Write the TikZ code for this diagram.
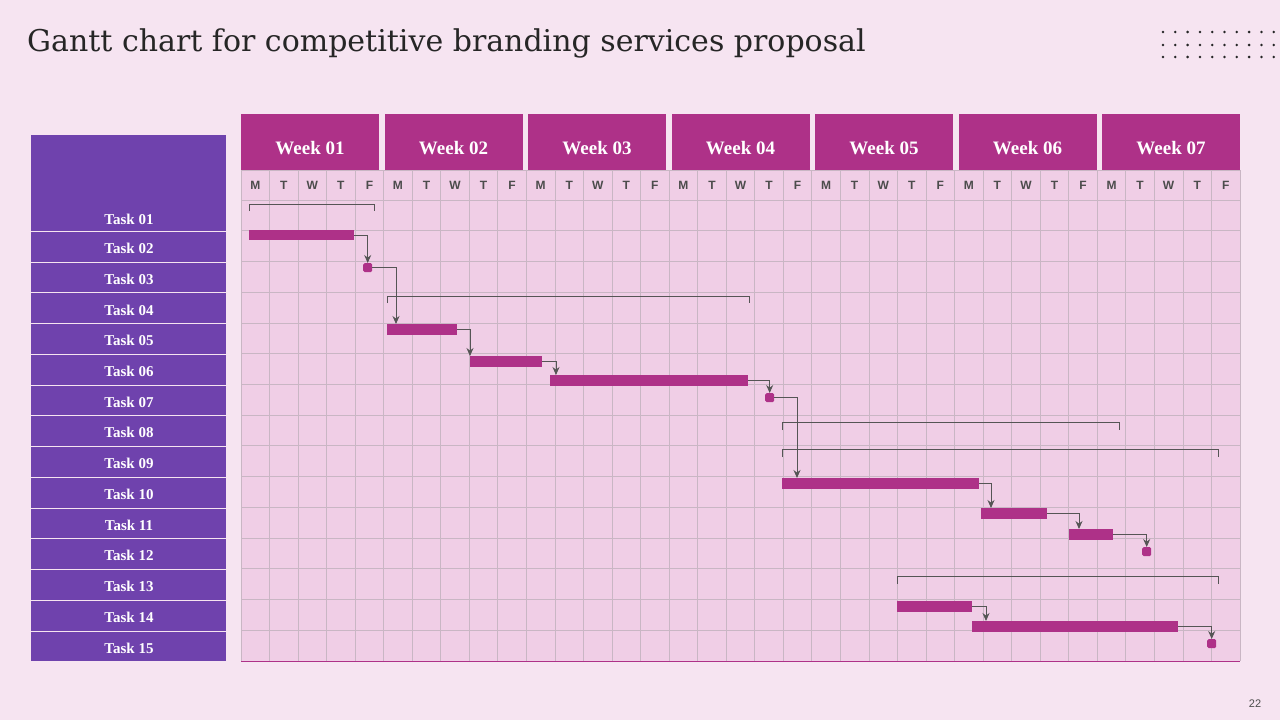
\documentclass[tikz,border=0pt]{standalone}
\usepackage{fontspec}
\setmainfont{Liberation Serif}
\newfontfamily\sansf{Liberation Sans}
\newfontfamily\titlef{DejaVu Serif}
\usetikzlibrary{arrows.meta}
\definecolor{bgc}{HTML}{F6E4F1}
\definecolor{cellc}{HTML}{F0CEE6}
\definecolor{gridc}{HTML}{C9B6C4}
\definecolor{magc}{HTML}{AE3188}
\definecolor{purc}{HTML}{6F42AD}
\definecolor{linec}{HTML}{555555}
\tikzset{
 bar/.style={fill=magc,draw=none},
 conn/.style={draw=linec,line width=0.9pt,-{Stealth[length=8pt,width=7pt]}},
 brk/.style={draw=linec,line width=0.9pt},
 daylbl/.style={font=\sansf\bfseries\fontsize{12}{12}\selectfont,text=black!70},
 weeklbl/.style={font=\bfseries\fontsize{19}{19}\selectfont,text=white},
 tasklbl/.style={font=\bfseries\fontsize{15}{15}\selectfont,text=white},
}
\begin{document}
\begin{tikzpicture}[x=1pt,y=-1pt]
\fill[bgc] (0,0) rectangle (1280,720);
\useasboundingbox (0,0) rectangle (1280,720);
\node[anchor=west,font=\titlef\fontsize{30}{30}\selectfont,text=black!85,inner sep=0] (title) at (27,43) {Gantt chart for competitive branding services proposal};
\foreach \r/\yy in {0/32,1/45,2/57}{\foreach \i in {0,...,9}{\fill[black!85] (1163+\i*12.3,\yy) circle (1.4);}}
\node[font=\sansf\fontsize{11}{11}\selectfont,text=black!70] (pg) at (1255,704) {22};
% grid
\fill[cellc] (241,170) rectangle (1240,661);
\foreach \c in {0,...,35}{\draw[gridc,line width=0.8pt] (241+\c*28.543,170) -- (241+\c*28.543,661);}
\foreach \r in {0,...,15}{\draw[gridc,line width=0.8pt] (241,200+\r*30.733) -- (1240,200+\r*30.733);}
\draw[gridc,line width=0.8pt] (241,170) -- (1240,170);
\draw[magc,line width=1pt] (241,661) -- (1240,661);
\foreach \w [count=\k from 0] in {01,02,03,04,05,06,07}{
 \fill[magc] (241+\k*143.5,114) rectangle (241+\k*143.5+138,170);
 \node[weeklbl] (wk\k) at (241+\k*143.5+69,148) {Week \w};
 \foreach \d [count=\j from 0] in {M,T,W,T,F}{
  \node[daylbl] (d\k\j) at (241+\k*142.71+\j*28.543+14.27,185) {\d};}
}
% tasks
\fill[purc] (31,135) rectangle (226,231);
\node[tasklbl] (t1) at (129,219) {Task 01};
\foreach \n in {2,...,9}{\fill[purc] (31,231+\n*30.733-61.466+1) rectangle (226,231+\n*30.733-30.733);
 \node[tasklbl] (t\n) at (129,231+\n*30.733-44) {Task 0\n};}
\foreach \n in {10,...,15}{\fill[purc] (31,231+\n*30.733-61.466+1) rectangle (226,231+\n*30.733-30.733);
 \node[tasklbl] (t\n) at (129,231+\n*30.733-44) {Task \n};}
% brackets
\draw[brk] (249,211) -- (249,204) -- (374,204) -- (374,211);
\draw[brk] (387,303) -- (387,296) -- (749,296) -- (749,303);
\draw[brk] (782,430) -- (782,422) -- (1119,422) -- (1119,430);
\draw[brk] (782,457) -- (782,449) -- (1218,449) -- (1218,457);
\draw[brk] (897,584) -- (897,576) -- (1218,576) -- (1218,584);
% bars
\node[bar,minimum width=105,minimum height=10,inner sep=0,anchor=north west] (b2) at (249,230) {};
\node[bar,minimum width=9,minimum height=9,inner sep=0,rounded corners=1.5,anchor=north west] (s3) at (363,263) {};
\node[bar,minimum width=70,minimum height=11,inner sep=0,anchor=north west] (b5) at (387,324) {};
\node[bar,minimum width=72,minimum height=11,inner sep=0,anchor=north west] (b6) at (470,356) {};
\node[bar,minimum width=198,minimum height=11,inner sep=0,anchor=north west] (b7) at (550,375) {};
\node[bar,minimum width=9,minimum height=9,inner sep=0,rounded corners=1.5,anchor=north west] (s7) at (765,393) {};
\node[bar,minimum width=197,minimum height=11,inner sep=0,anchor=north west] (b10) at (782,478) {};
\node[bar,minimum width=66,minimum height=11,inner sep=0,anchor=north west] (b11) at (981,508) {};
\node[bar,minimum width=44,minimum height=11,inner sep=0,anchor=north west] (b12) at (1069,529) {};
\node[bar,minimum width=9,minimum height=9,inner sep=0,rounded corners=1.5,anchor=north west] (s12) at (1142,547) {};
\node[bar,minimum width=75,minimum height=11,inner sep=0,anchor=north west] (b14) at (897,601) {};
\node[bar,minimum width=206,minimum height=11,inner sep=0,anchor=north west] (b15) at (972,621) {};
\node[bar,minimum width=9,minimum height=9,inner sep=0,rounded corners=1.5,anchor=north west] (s15) at (1207,639) {};
% connectors
\draw[conn] (b2.east) -| (s3.north);
\draw[conn] (s3.east) -| (396,324);
\draw[conn] (b5.east) -| (470,356);
\draw[conn] (b6.east) -| (556,375);
\draw[conn] (b7.east) -| (s7.north);
\draw[conn] (s7.east) -| (797,478);
\draw[conn] (b10.east) -| (991,508);
\draw[conn] (b11.east) -| (1079,529);
\draw[conn] (b12.east) -| (s12.north);
\draw[conn] (b14.east) -| (986,621);
\draw[conn] (b15.east) -| (s15.north);
\end{tikzpicture}
\end{document}
